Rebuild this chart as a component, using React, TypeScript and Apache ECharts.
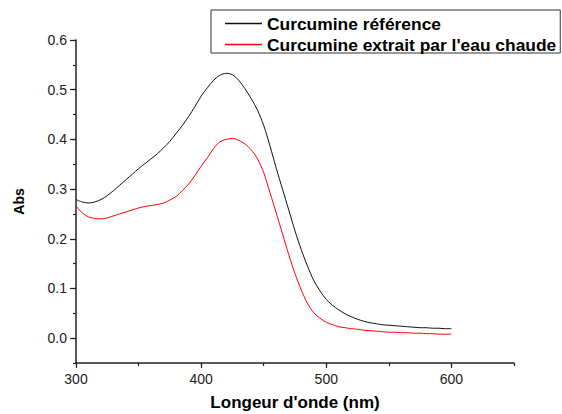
import React, { useEffect, useRef } from "react";
import * as echarts from "echarts";

const wavelengths = [
  300, 305, 310, 315, 320, 325, 330, 335, 340, 345, 350, 355, 360, 365, 370, 375, 380, 385, 390, 395,
  400, 405, 410, 415, 420, 425, 430, 435, 440, 445, 450, 455, 460, 465, 470, 475, 480, 485, 490, 495,
  500, 505, 510, 515, 520, 525, 530, 535, 540, 545, 550, 555, 560, 565, 570, 575, 580, 585, 590, 595, 600,
];

const absReference = [
  0.279, 0.274, 0.272, 0.274, 0.279, 0.287, 0.297, 0.308, 0.319, 0.330, 0.341, 0.351, 0.361, 0.371, 0.383, 0.396, 0.412, 0.428, 0.446, 0.466,
  0.487, 0.504, 0.519, 0.529, 0.533, 0.530, 0.519, 0.502, 0.482, 0.459, 0.428, 0.387, 0.342, 0.300, 0.258, 0.216, 0.178, 0.145, 0.116, 0.095,
  0.078, 0.066, 0.057, 0.049, 0.043, 0.038, 0.034, 0.031, 0.029, 0.027, 0.026, 0.025, 0.024, 0.023, 0.022, 0.021, 0.021, 0.020, 0.020, 0.019, 0.019,
];

const absHotWater = [
  0.266, 0.252, 0.244, 0.241, 0.240, 0.242, 0.246, 0.250, 0.254, 0.258, 0.262, 0.265, 0.267, 0.269, 0.272, 0.278, 0.285, 0.297, 0.310, 0.327,
  0.346, 0.363, 0.382, 0.395, 0.400, 0.402, 0.398, 0.391, 0.379, 0.361, 0.333, 0.293, 0.252, 0.210, 0.168, 0.130, 0.097, 0.070, 0.051, 0.040,
  0.032, 0.027, 0.023, 0.021, 0.019, 0.018, 0.016, 0.015, 0.014, 0.013, 0.012, 0.012, 0.011, 0.011, 0.010, 0.010, 0.009, 0.009, 0.008, 0.008, 0.008,
];

const seriesNames = ["Curcumine référence", "Curcumine extrait par l'eau chaude"];
const xAxisTitle = "Longeur d'onde (nm)";
const yAxisTitle = "Abs";

const X_MIN = 300;
const X_MAX = 650;
const X_LABEL_MAX = 600;
const Y_MIN = -0.05;
const Y_MAX = 0.6;
const Y_LABEL_MIN = 0;

const G = { left: 76, top: 40, width: 438, height: 323 };
const FONT = "'Liberation Sans', Arial, Helvetica, sans-serif";
const AXIS_COLOR = "#222";

export default function App() {
  const ref = useRef<HTMLDivElement>(null);

  useEffect(() => {
    if (!ref.current) return;
    const chart = echarts.init(ref.current, null, { renderer: "svg" });

    const yMajorHeight = (G.height * (Y_MAX - Y_LABEL_MIN)) / (Y_MAX - Y_MIN);
    const xMajorWidth = (G.width * (X_LABEL_MAX - X_MIN)) / (X_MAX - X_MIN);

    const option: any = {
      animation: false,
      backgroundColor: "#fff",
      textStyle: { fontFamily: FONT },
      grid: [
        { left: G.left, top: G.top, width: G.width, height: G.height, containLabel: false, outerBoundsMode: "none" },
        { left: G.left, top: G.top, width: G.width, height: yMajorHeight, containLabel: false, outerBoundsMode: "none" },
        { left: G.left, top: G.top, width: xMajorWidth, height: G.height, containLabel: false, outerBoundsMode: "none" },
      ],
      legend: {
        left: 211,
        top: 10,
        orient: "vertical",
        icon: "rect",
        itemWidth: 37,
        itemHeight: 1.3,
        itemGap: 4,
        padding: [5, 4, 0, 14],
        borderColor: "#333",
        borderWidth: 1,
        backgroundColor: "#fff",
        textStyle: { fontSize: 17.4, fontWeight: "bold", color: "#000", fontFamily: FONT },
        data: seriesNames,
      },
      xAxis: [
        {
          gridIndex: 0,
          type: "value",
          min: X_MIN,
          max: X_MAX,
          interval: 50,
          position: "bottom",
          axisLine: { show: true, onZero: false, lineStyle: { color: AXIS_COLOR, width: 1.5 } },
          axisTick: { show: true, inside: false, length: 3, lineStyle: { color: AXIS_COLOR, width: 1.2 } },
          axisLabel: { show: false },
          splitLine: { show: false },
          name: xAxisTitle,
          nameLocation: "middle",
          nameGap: 31,
          nameTextStyle: { fontSize: 17, fontWeight: "bold", color: "#000", fontFamily: FONT },
        },
        { gridIndex: 1, type: "value", min: X_MIN, max: X_MAX, show: false },
        {
          gridIndex: 2,
          type: "value",
          min: X_MIN,
          max: X_LABEL_MAX,
          interval: 100,
          position: "bottom",
          axisLine: { show: false, onZero: false },
          axisTick: { show: true, inside: false, length: 5, lineStyle: { color: AXIS_COLOR, width: 1.2 } },
          axisLabel: { show: true, fontSize: 14, color: "#222", margin: 9, fontFamily: FONT },
          splitLine: { show: false },
        },
      ],
      yAxis: [
        {
          gridIndex: 0,
          type: "value",
          min: Y_MIN,
          max: Y_MAX,
          interval: 0.05,
          axisLine: { show: true, onZero: false, lineStyle: { color: AXIS_COLOR, width: 1.5 } },
          axisTick: { show: true, inside: false, length: 3, lineStyle: { color: AXIS_COLOR, width: 1.2 } },
          axisLabel: { show: false },
          splitLine: { show: false },
          name: yAxisTitle,
          nameLocation: "middle",
          nameGap: 50,
          nameTextStyle: { fontSize: 14, fontWeight: "bold", color: "#000", fontFamily: FONT },
        },
        {
          gridIndex: 1,
          type: "value",
          min: Y_LABEL_MIN,
          max: Y_MAX,
          interval: 0.1,
          axisLine: { show: false, onZero: false },
          axisTick: { show: true, inside: false, length: 6, lineStyle: { color: AXIS_COLOR, width: 1.2 } },
          axisLabel: {
            show: true,
            fontSize: 14,
            color: "#222",
            margin: 9,
            fontFamily: FONT,
            formatter: (v: number) => v.toFixed(1),
          },
          splitLine: { show: false },
        },
        { gridIndex: 2, type: "value", min: Y_MIN, max: Y_MAX, show: false },
      ],
      series: [
        {
          name: seriesNames[0],
          type: "line",
          xAxisIndex: 0,
          yAxisIndex: 0,
          symbol: "none",
          smooth: 0.3,
          lineStyle: { color: "#111", width: 1 },
          itemStyle: { color: "#111" },
          data: wavelengths.map((w, i) => [w, absReference[i]]),
        },
        {
          name: seriesNames[1],
          type: "line",
          xAxisIndex: 0,
          yAxisIndex: 0,
          symbol: "none",
          smooth: 0.3,
          lineStyle: { color: "#ff0000", width: 1 },
          itemStyle: { color: "#ff0000" },
          data: wavelengths.map((w, i) => [w, absHotWater[i]]),
        },
      ],
    };

    chart.setOption(option);
    return () => chart.dispose();
  }, []);

  return (
    <div
      ref={ref}
      style={{ position: "absolute", left: 0, top: 0, width: 562, height: 414, background: "#fff" }}
    />
  );
}
